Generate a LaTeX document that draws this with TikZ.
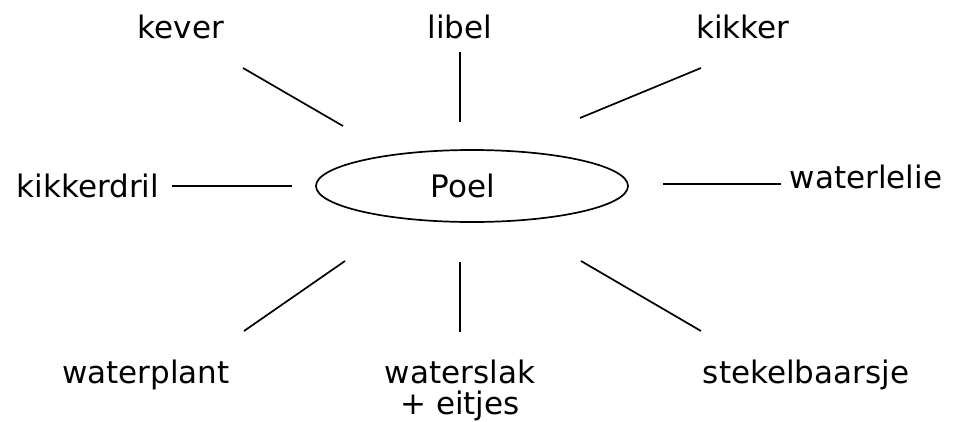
\documentclass[tikz,border=0pt]{standalone}
\usepackage{fontspec}
\setmainfont{DejaVu Sans}
\usetikzlibrary{shapes.geometric}
\begin{document}
\begin{tikzpicture}[x=1pt,y=-1pt,
  lbl/.style={font=\fontsize{31}{36}\selectfont, inner sep=0pt, align=center},
  spoke/.style={line width=1.7pt}]
\useasboundingbox (0,0) rectangle (953,421);
\node[draw, ellipse, line width=1.7pt, minimum width=312pt, minimum height=72pt, inner sep=0pt] (poel) at (472,186) {};
\node[lbl] (poeltext) at (463,186) {Poel};
\node[lbl] (kever) at (181,27) {kever};
\node[lbl] (libel) at (460,27) {libel};
\node[lbl] (kikker) at (743,27) {kikker};
\node[lbl] (kikkerdril) at (88,186) {kikkerdril};
\node[lbl] (waterlelie) at (866,177) {waterlelie};
\node[lbl] (waterplant) at (146,375) {waterplant};
\node[lbl, anchor=base] (waterslak) at (460,383) {waterslak};
\node[lbl, anchor=base] (eitjes) at (460,414) {+ eitjes};
\node[lbl] (stekel) at (806,375) {stekelbaarsje};
\coordinate (a1) at (243,68); \coordinate (a2) at (343,126);
\coordinate (b1) at (460,52); \coordinate (b2) at (460,122);
\coordinate (c1) at (701,68); \coordinate (c2) at (580,118);
\coordinate (d1) at (172,186); \coordinate (d2) at (292,186);
\coordinate (e1) at (663,184); \coordinate (e2) at (781,184);
\coordinate (f1) at (345,261); \coordinate (f2) at (244,331);
\coordinate (g1) at (460,262); \coordinate (g2) at (460,332);
\coordinate (h1) at (581,261); \coordinate (h2) at (701,331);
\draw[spoke] (a1) -- (a2);
\draw[spoke] (b1) -- (b2);
\draw[spoke] (c1) -- (c2);
\draw[spoke] (d1) -- (d2);
\draw[spoke] (e1) -- (e2);
\draw[spoke] (f1) -- (f2);
\draw[spoke] (g1) -- (g2);
\draw[spoke] (h1) -- (h2);
\end{tikzpicture}
\end{document}
